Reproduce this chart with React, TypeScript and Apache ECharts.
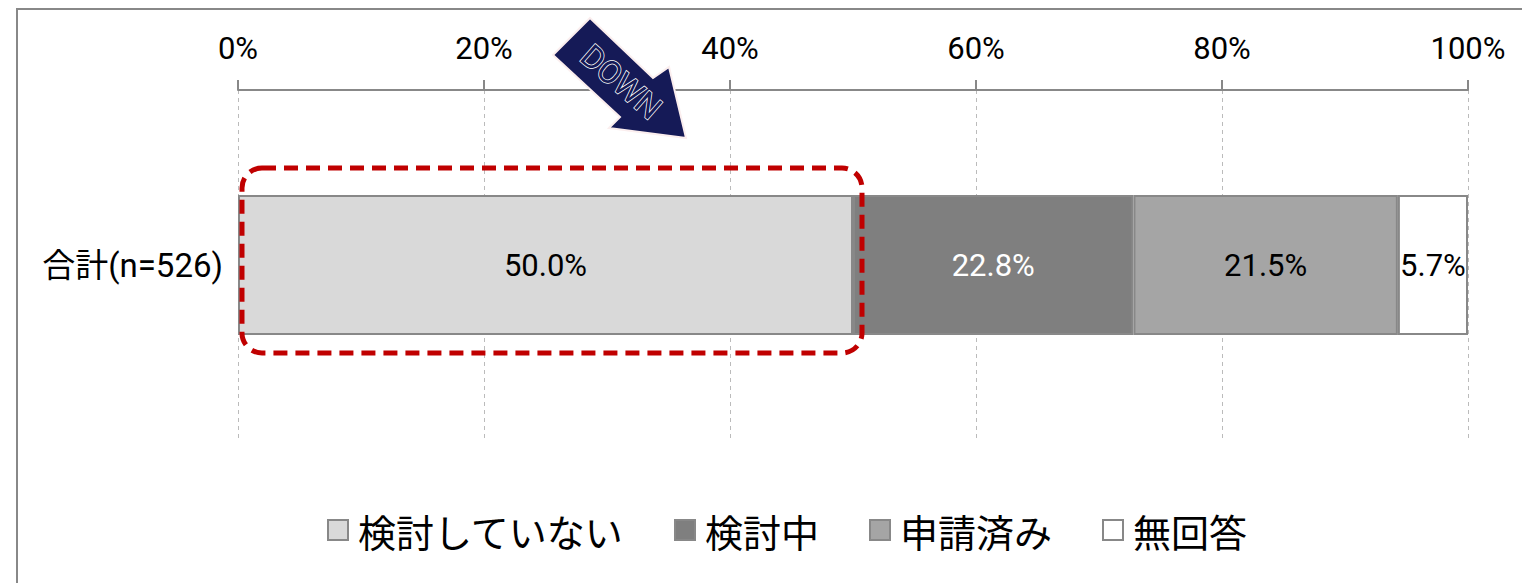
import React, { useEffect, useRef } from "react";
import * as echarts from "echarts";

const categories = ["合計(n=526)"];
const seriesNames = ["検討していない", "検討中", "申請済み", "無回答"];
const seriesValues = [[50.0], [22.8], [21.5], [5.7]];
const seriesColors = ["#d9d9d9", "#7f7f7f", "#a5a5a5", "#ffffff"];
const labelColors = ["#000000", "#ffffff", "#000000", "#000000"];
const xTicks = { min: 0, max: 100, interval: 20 };

const NUM = 'Roboto, "Noto Sans CJK JP", sans-serif';
const JP = '"Noto Sans CJK JP", sans-serif';

export default function App() {
  const ref = useRef<HTMLDivElement>(null);
  useEffect(() => {
    document.body.style.margin = "0";
    const chart = echarts.init(ref.current!, null, { renderer: "svg" });
    const option: any = {
      animation: false,
      backgroundColor: "#ffffff",
      grid: { left: 238, right: 54, top: 90, bottom: 143 },
      xAxis: {
        type: "value",
        position: "top",
        min: xTicks.min,
        max: xTicks.max,
        interval: xTicks.interval,
        axisLabel: {
          formatter: "{value}%",
          fontSize: 31,
          color: "#000",
          fontFamily: NUM,
          margin: 26,
        },
        axisLine: { show: true, lineStyle: { color: "#888", width: 2 } },
        axisTick: { show: true, length: 10, lineStyle: { color: "#888", width: 2 } },
        splitLine: { show: true, lineStyle: { color: "#bbb", width: 1, type: [4, 4] } },
      },
      yAxis: {
        type: "category",
        data: categories,
        inverse: true,
        axisLine: { show: false },
        axisTick: { show: false },
        axisLabel: { fontSize: 33, color: "#000", fontFamily: NUM, margin: 15 },
      },
      legend: {
        left: 322,
        top: 506,
        itemWidth: 20,
        itemHeight: 20,
        itemGap: 50,
        textStyle: { fontSize: 38, color: "#000", fontFamily: JP, padding: [0, 0, 0, 5] },
        data: seriesNames.map((n, i) => ({
          name: n,
          icon: "rect",
          itemStyle: { color: seriesColors[i], borderColor: "#888", borderWidth: 2 },
        })),
      },
      series: seriesNames.map((n, i) => ({
        name: n,
        type: "bar",
        stack: "total",
        barWidth: 140,
        data: seriesValues[i],
        itemStyle: { color: seriesColors[i], borderColor: "#888", borderWidth: 2 },
        label: {
          show: true,
          position: "inside",
          formatter: (p: any) => p.value.toFixed(1) + "%",
          fontSize: 31,
          color: labelColors[i],
          fontFamily: NUM,
        },
      })),
      graphic: [
        {
          type: "rect",
          z: 0,
          silent: true,
          shape: { x: 17, y: 9, width: 1700, height: 800 },
          style: { fill: "none", stroke: "#888", lineWidth: 2 },
        },
        {
          type: "rect",
          z: 100,
          silent: true,
          shape: { x: 242, y: 168, width: 620, height: 185, r: 20 },
          style: { fill: "none", stroke: "#c00000", lineWidth: 5, lineDash: [14, 8] },
        },
        {
          type: "polygon",
          z: 100,
          silent: true,
          shape: {
            points: [
              [590, 18],
              [653, 78],
              [669, 67],
              [686, 138],
              [609, 128],
              [620, 117],
              [553, 55],
            ],
          },
          style: { fill: "#151a57", stroke: "#fbeeee", lineWidth: 2 },
        },
        {
          type: "text",
          z: 101,
          silent: true,
          x: 621,
          y: 82,
          rotation: (-41 * Math.PI) / 180,
          style: {
            text: "DOWN",
            fontSize: 32,
            fontFamily: 'Roboto, "Liberation Sans", sans-serif',
            fill: "#151a57",
            stroke: "#ffffff",
            lineWidth: 1.5,
            align: "center",
            verticalAlign: "middle",
          },
        },
      ],
    };
    chart.setOption(option);
    return () => chart.dispose();
  }, []);
  return <div ref={ref} style={{ width: 1522, height: 583 }} />;
}
